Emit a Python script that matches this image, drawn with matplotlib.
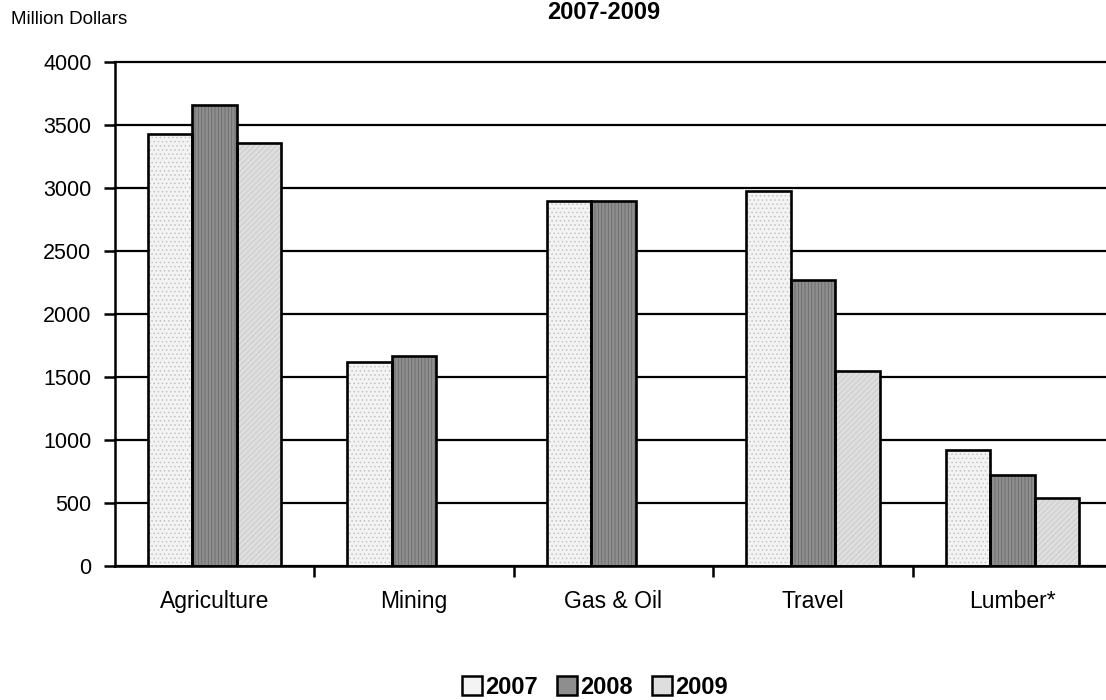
import numpy as np
import matplotlib
matplotlib.use('Agg')
import matplotlib.pyplot as plt
from matplotlib.patches import Patch

categories = ['Agriculture', 'Mining', 'Gas & Oil', 'Travel', 'Lumber*']
years = ['2007', '2008', '2009']
v2007 = [3430, 1620, 2900, 2980, 920]
v2008 = [3660, 1670, 2900, 2270, 720]
v2009 = [3360, np.nan, np.nan, 1550, 540]
yticks = [0, 500, 1000, 1500, 2000, 2500, 3000, 3500, 4000]

plt.rcParams['font.family'] = ['Liberation Sans', 'DejaVu Sans']
plt.rcParams['hatch.linewidth'] = 0.6

faces = ['#f3f3f3', '#8e8e8e', '#dedede']
hatch_cols = ['#c4c4c4', '#6a6a6a', '#c8c8c8']
hatches = ['....', '|||||', '//////']

fig = plt.figure(figsize=(11.06, 7), dpi=100)
ax = fig.add_axes([115 / 1106, 134 / 700, 997 / 1106, 504 / 700])

x = np.arange(len(categories))
w = 0.223
for k, vals in enumerate([v2007, v2008, v2009]):
    pos = x + (k - 1) * w
    ax.bar(pos, vals, w, color=faces[k], hatch=hatches[k],
           edgecolor=hatch_cols[k], linewidth=0, zorder=3)
    ax.bar(pos, vals, w, fill=False, edgecolor='black', linewidth=1.9, zorder=4)

ax.set_xlim(-0.5, 4.5)
ax.set_ylim(0, 4000)
ax.set_yticks(yticks)
ax.set_xticks(x + 0.5, minor=False)
ax.set_xticks(x, minor=True)
ax.set_xticklabels([])
ax.set_xticklabels(categories, minor=True)
ax.tick_params(axis='x', which='minor', length=0, pad=17, labelsize=16.5)
ax.tick_params(axis='x', which='major', length=8, width=1.8, direction='out')
ax.tick_params(axis='y', length=8, width=1.8, direction='out', pad=9, labelsize=15.5)

ax.grid(axis='y', color='black', linewidth=1.6, zorder=1)
ax.set_axisbelow(True)
for gl in ax.get_ygridlines():
    gl.set_clip_on(False)
for s in ['top', 'right']:
    ax.spines[s].set_visible(False)
for s in ['left', 'bottom']:
    ax.spines[s].set_linewidth(1.8)
    ax.spines[s].set_zorder(5)

fig.text(11 / 1106, 1 - 20 / 700, 'Million Dollars', fontsize=13.5, va='center', ha='left')
fig.text(604 / 1106, 1 - 1 / 700, '2007-2009', fontsize=17, fontweight='bold',
         ha='center', va='top')

handles = [Patch(facecolor=faces[k], edgecolor='black', linewidth=1.8, hatch=None)
           for k in range(3)]
fig.legend(handles, years, loc='center', bbox_to_anchor=(595 / 1106, 1 - 687 / 700),
           ncol=3, frameon=False, handlelength=0.85, handleheight=0.85,
           handletextpad=0.15, columnspacing=0.8,
           prop={'weight': 'bold', 'size': 17})

fig.savefig('out.png', dpi=100)
